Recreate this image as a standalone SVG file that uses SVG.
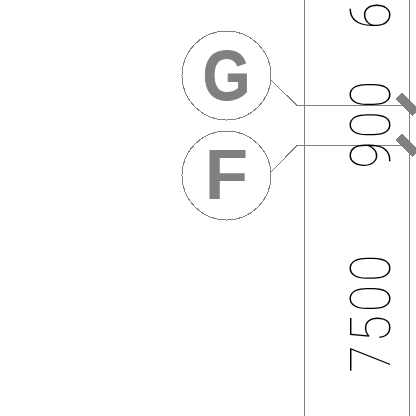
<svg xmlns="http://www.w3.org/2000/svg" width="416" height="416" viewBox="0 0 416 416">
<style>
.ln{fill:none;stroke:#808080;stroke-width:1;shape-rendering:crispEdges}
.c{fill:#fff;stroke:#808080;stroke-width:1;shape-rendering:crispEdges}
.l{font-family:"Liberation Sans",Arial,sans-serif;font-weight:700;font-size:71px;fill:#808080;text-anchor:middle}
.d{font-family:Roboto,"Liberation Sans",sans-serif;font-weight:100;font-size:56px;fill:#000;letter-spacing:3.700px}
.t{stroke:#808080;stroke-width:9;fill:none;shape-rendering:crispEdges}
</style>
<rect width="416" height="416" fill="#fff"/>
<g id="connectors">
<path class="ln" d="M304.500 0V416M409.500 0V416"/>
<path class="ln" d="M271 80L297 105.500H405M271 172L297 145.500H405"/>
<path class="t" d="M399 96L416 113M399 137L416 154"/>
</g>
<g id="node-G"><circle class="c" cx="226.500" cy="75.500" r="44.500"/><text class="l" transform="translate(226.500,100) scale(.86,1)" stroke="#808080" stroke-width="1">G</text></g>
<g id="node-F"><circle class="c" cx="226.500" cy="175.500" r="44.500"/><text class="l" x="226.500" y="199">F</text></g>
<g id="dims">
<text class="d" transform="translate(390,29) rotate(-90) scale(.88,1)">6</text>
<text class="d" transform="translate(390,168.500) rotate(-90) scale(.88,1)">900</text>
<text class="d" transform="translate(390,372.500) rotate(-90) scale(.88,1)">7500</text>
</g>
</svg>
